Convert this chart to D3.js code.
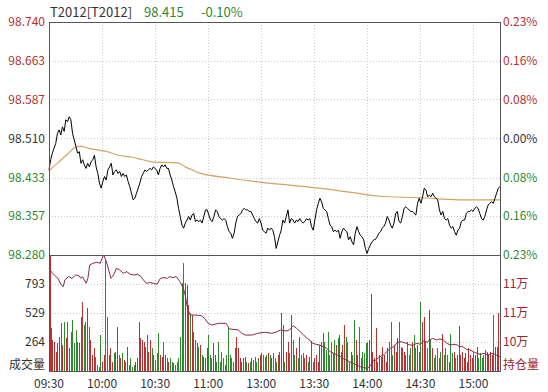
<!DOCTYPE html>
<html>
<head>
<meta charset="utf-8">
<script src="https://d3js.org/d3.v7.min.js"></script>
<style>
    body { margin: 0; background: #fff; }
    text { font-family: "Noto Sans CJK SC", "Noto Sans", sans-serif; font-size: 12px; }
</style>
</head>
<body>
<div id="my_chart"></div>
<script>

    // header
    var code = "T2012[T2012]";
    var lastPrice = "98.415";
    var lastChange = "-0.10%";

    // axis labels
    var prevClose = 98.510;
    var priceTicks = [98.740, 98.663, 98.587, 98.510, 98.433, 98.357, 98.280];
    var pctLabels = ["0.23%", "0.16%", "0.08%", "0.00%", "0.08%", "0.16%", "0.23%"];
    var timeLabels = ["09:30", "10:00", "10:30", "11:00", "13:00", "13:30", "14:00", "14:30", "15:00"];
    var timeMinutes = [0, 30, 60, 90, 120, 150, 180, 210, 240];
    var volTicks = [264, 529, 793];
    var volMax = 1057;
    var oiTicks = [108500, 106500, 104500];

    // minute prices 09:30 - 15:15
    var prices = [
        98.448, 98.468, 98.481, 98.491, 98.500, 98.520, 98.527, 98.517, 98.533, 98.524,
        98.547, 98.543, 98.553, 98.547, 98.520, 98.507, 98.494, 98.481, 98.484, 98.461,
        98.468, 98.458, 98.451, 98.461, 98.454, 98.464, 98.468, 98.477, 98.454, 98.441,
        98.422, 98.412, 98.425, 98.435, 98.428, 98.448, 98.454, 98.461, 98.438, 98.445,
        98.448, 98.441, 98.445, 98.435, 98.441, 98.435, 98.438, 98.425, 98.415, 98.402,
        98.389, 98.392, 98.402, 98.412, 98.422, 98.435, 98.441, 98.448, 98.445, 98.448,
        98.451, 98.448, 98.454, 98.451, 98.448, 98.438, 98.451, 98.458, 98.454, 98.458,
        98.451, 98.451, 98.438, 98.428, 98.415, 98.405, 98.392, 98.372, 98.356, 98.339,
        98.333, 98.343, 98.349, 98.356, 98.349, 98.359, 98.362,
        98.346, 98.349, 98.346, 98.349, 98.343, 98.356, 98.369, 98.369, 98.359, 98.349,
        98.346, 98.356, 98.369, 98.366, 98.356, 98.352, 98.349, 98.352, 98.349, 98.336,
        98.326, 98.323, 98.313, 98.323, 98.343, 98.356, 98.359, 98.362, 98.369, 98.372,
        98.369, 98.369, 98.366, 98.366, 98.359, 98.352, 98.346, 98.343, 98.352, 98.343,
        98.329, 98.326, 98.323, 98.333, 98.329, 98.333, 98.329, 98.316, 98.293, 98.306,
        98.319, 98.329, 98.349, 98.343, 98.356, 98.369, 98.343, 98.352, 98.349, 98.343,
        98.349, 98.346, 98.352, 98.346, 98.343, 98.346, 98.352, 98.349, 98.352, 98.336,
        98.329, 98.349, 98.369, 98.382, 98.392, 98.385, 98.372, 98.369, 98.366, 98.352,
        98.339, 98.336, 98.326, 98.329, 98.326, 98.329, 98.313, 98.326, 98.333, 98.329,
        98.326,
        98.310, 98.316, 98.306, 98.300, 98.323, 98.336, 98.326, 98.319, 98.316, 98.310,
        98.293, 98.283, 98.293, 98.300, 98.306, 98.310, 98.311, 98.316, 98.323, 98.326,
        98.333, 98.336, 98.343, 98.356, 98.349, 98.339, 98.333, 98.343, 98.362, 98.366,
        98.346, 98.343, 98.356, 98.372, 98.375, 98.372, 98.369, 98.366, 98.366, 98.362,
        98.359, 98.382, 98.392, 98.382, 98.395, 98.412, 98.408, 98.395, 98.398, 98.395,
        98.402, 98.395, 98.392, 98.389, 98.369, 98.359, 98.366, 98.352, 98.349, 98.352,
        98.339, 98.333, 98.336, 98.326, 98.319, 98.329, 98.333, 98.346, 98.349, 98.349,
        98.362, 98.366, 98.366, 98.369, 98.366, 98.372, 98.375, 98.372, 98.362, 98.352,
        98.349, 98.356, 98.369, 98.379, 98.382, 98.385, 98.382, 98.392, 98.402, 98.412,
        98.415
    ];

    // average price line
    var avgMinutes = [0, 3, 7, 11, 15, 18, 22, 28, 32, 39, 47, 53, 58, 73, 77, 81, 85, 102, 119, 136, 153, 170, 187, 210, 232, 255];
    var avgPrices = [98.446, 98.456, 98.468, 98.481, 98.493, 98.495, 98.491, 98.487, 98.485, 98.477, 98.473, 98.468, 98.464,
        98.462, 98.454, 98.448, 98.442, 98.432, 98.424, 98.418, 98.412, 98.404, 98.396, 98.393, 98.389, 98.389];

    // volume per minute
    var volumes = [
        1050, 389, 282, 267, 176, 252, 313, 434, 237, 449, 298, 449, 207, 358, 465, 252, 374, 267, 252, 495,
        632, 419, 449, 571, 404, 282, 146, 207, 131, 55, 39, 328, 85, 146, 1011, 495, 146, 207, 85, 161,
        176, 404, 146, 115, 161, 100, 85, 222, 55, 115, 39, 55, 85, 115, 449, 298, 282, 267, 222, 328,
        176, 282, 207, 146, 100, 161, 343, 146, 131, 267, 146, 115, 85, 115, 85, 70, 55, 85, 115, 313,
        799, 981, 799, 783, 601, 525, 510, 358, 282, 252, 222, 237, 146, 131, 115, 207, 328, 146, 115, 252,
        146, 85, 267, 85, 176, 115, 55, 146, 404, 146, 115, 85, 207, 313, 207, 115, 85, 115, 131, 85,
        70, 85, 115, 100, 131, 85, 115, 146, 161, 146, 131, 146, 161, 146, 115, 161,
        115, 85, 146, 176, 525, 419, 85, 176, 267, 161, 510, 282, 146, 207, 115, 313, 146, 161, 115, 146,
        85, 131, 273, 85, 115, 146, 85, 237, 267, 343, 267, 191, 358, 146, 267, 161, 282, 237, 298, 328,
        176, 237, 419, 313, 267, 85, 176, 146, 465, 282, 146, 404, 115, 176, 161, 252, 267, 282, 698, 176,
        115, 389, 85, 146, 131, 222, 146, 85, 207, 267, 449, 146, 237, 176, 298, 449, 222, 207, 176, 146,
        267, 146, 207, 267, 328, 207, 237, 176, 632, 449, 495, 267, 207, 556, 282, 207, 115, 146, 207, 115,
        176, 334, 146, 207, 146, 85, 334, 161, 176, 115, 146, 410, 146, 176, 115, 161, 85, 207, 146, 115,
        176, 146, 222, 115, 161, 115, 146, 191, 176, 146, 176, 146, 510, 222, 222, 525, 434
    ];

    // open interest
    var oiMinutes = [0, 2, 3, 5, 7, 8, 9, 11, 13, 15, 17, 18, 19, 20, 21, 22, 23, 25, 27, 29, 30, 31, 32, 33, 34, 35, 36, 37, 38,
        40, 42, 44, 46, 48, 50, 52, 53, 55, 57, 59, 61, 63, 65, 67, 68, 70, 72, 74, 76, 77, 78, 79, 80, 83, 86, 88, 90, 92,
        96, 100, 101, 102, 107, 109, 111, 115, 118, 122, 126, 129, 131, 134, 136, 138, 140, 142, 144, 146, 148, 149, 151,
        153, 155, 157, 159, 161, 163, 165, 166, 168, 170, 172, 174, 176, 178, 180, 182, 183, 185, 187, 189, 191, 193, 195,
        197, 199, 200, 202, 204, 206, 208, 210, 212, 214, 215, 217, 219, 221, 223, 225, 227, 229, 231, 232, 234, 236, 238,
        240, 242, 244, 246, 248, 249, 251, 253, 255];
    var oiValues = [109580, 109240, 109120, 108890, 108430, 108310, 108780, 109010, 108890, 109120, 109070, 108890, 109010,
        108780, 108550, 108890, 109810, 109930, 110000, 109930, 110270, 110500, 110160, 109810, 109350, 108890, 109010,
        109240, 109580, 109470, 109240, 109350, 109170, 109120, 109170, 109010, 108840, 108550, 108600, 108550, 108480,
        108890, 108940, 108890, 109010, 108940, 109010, 108660, 108200, 107740, 107050, 106590, 106360, 106360, 106320,
        106130, 105790, 105670, 105790, 105790, 105620, 105400, 105330, 105100, 104980, 104980, 105100, 105170, 105100,
        105210, 105330, 105260, 105330, 105630, 105440, 105210, 104980, 104750, 104570, 104410, 104340, 104290, 104180,
        104060, 103830, 103720, 103600, 103490, 103370, 103260, 103140, 103030, 102910, 102800, 102730, 102680, 102910,
        103190, 103260, 103490, 103600, 103830, 104060, 104180, 104480, 104520, 104480, 104410, 104290, 104290, 104410,
        104340, 104570, 104480, 104640, 104750, 104640, 104710, 104640, 104410, 104290, 104340, 104290, 104180, 104180,
        103990, 103950, 103830, 103720, 103650, 103720, 103600, 103650, 103720, 103600, 103490];

    var W = 548, H = 392;
    var plot = {left: 49, right: 500, top: 22, mid: 255, bottom: 371};

    var red = "#b8302f", green = "#2f8a2f", grey = "#333";

    var svg = d3.select("#my_chart")
        .append("svg")
        .attr("width", W)
        .attr("height", H);

    var x = d3.scaleLinear().domain([0, 255]).range([plot.left, plot.right]);
    var yP = d3.scaleLinear().domain([98.280, 98.740]).range([plot.mid, plot.top]);
    var yV = d3.scaleLinear().domain([0, volMax]).range([plot.bottom, plot.mid]);
    var yOI = d3.scaleLinear().domain([102500, 110500]).range([plot.bottom, plot.mid]);

    var nP = prices.length, nV = volumes.length;
    var pMin = function(i) { return i * 255 / (nP - 1); };
    var vMin = function(i) { return i * 255 / (nV - 1); };

    // grid
    var grid = svg.append("g")
        .attr("stroke", "#c8c8c8")
        .attr("stroke-dasharray", "1,2")
        .attr("shape-rendering", "crispEdges");
    grid.selectAll(".hp")
        .data(priceTicks.slice(1, -1))
        .enter().append("line")
        .attr("x1", plot.left).attr("x2", plot.right)
        .attr("y1", function(d) { return Math.round(yP(d)) + 0.5; })
        .attr("y2", function(d) { return Math.round(yP(d)) + 0.5; });
    grid.selectAll(".hv")
        .data(volTicks)
        .enter().append("line")
        .attr("x1", plot.left).attr("x2", plot.right)
        .attr("y1", function(d) { return Math.round(yV(d)) + 0.5; })
        .attr("y2", function(d) { return Math.round(yV(d)) + 0.5; });
    grid.selectAll(".vt")
        .data(timeMinutes.slice(1))
        .enter().append("line")
        .attr("y1", plot.top).attr("y2", plot.bottom)
        .attr("x1", function(d) { return Math.round(x(d)) + 0.5; })
        .attr("x2", function(d) { return Math.round(x(d)) + 0.5; });

    // volume bars
    var barColor = function(i) {
        var pi = Math.round(vMin(i) / 255 * (nP - 1));
        if (pi == 0) return red;
        return prices[pi] >= prices[pi - 1] ? red : green;
    };
    svg.append("g")
        .attr("shape-rendering", "crispEdges")
        .selectAll("rect")
        .data(volumes)
        .enter().append("rect")
        .attr("x", function(d, i) { return Math.round(x(vMin(i))); })
        .attr("width", function(d, i) { return i == 0 ? 2 : 1; })
        .attr("y", function(d) { return yV(d); })
        .attr("height", function(d) { return plot.bottom - yV(d); })
        .attr("fill", function(d, i) { return barColor(i); });

    // open interest line
    svg.append("path")
        .datum(oiValues)
        .attr("fill", "none")
        .attr("stroke", "#8c2846")
        .attr("stroke-width", 1)
        .attr("d", d3.line()
            .x(function(d, i) { return x(oiMinutes[i]); })
            .y(function(d) { return yOI(d); }));

    // average line
    svg.append("path")
        .datum(avgPrices)
        .attr("fill", "none")
        .attr("stroke", "#d2a464")
        .attr("stroke-width", 1.2)
        .attr("d", d3.line()
            .curve(d3.curveMonotoneX)
            .x(function(d, i) { return x(avgMinutes[i]); })
            .y(function(d) { return yP(d); }));

    // price line
    svg.append("path")
        .datum(prices)
        .attr("fill", "none")
        .attr("stroke", "#000")
        .attr("stroke-width", 1)
        .attr("d", d3.line()
            .x(function(d, i) { return x(pMin(i)); })
            .y(function(d) { return yP(d); }));

    // frame
    var frame = svg.append("g")
        .attr("stroke", "#555")
        .attr("fill", "none")
        .attr("shape-rendering", "crispEdges");
    frame.append("rect")
        .attr("x", plot.left + 0.5).attr("y", plot.top + 0.5)
        .attr("width", plot.right - plot.left).attr("height", plot.bottom - plot.top);
    frame.append("line")
        .attr("x1", plot.left).attr("x2", plot.right)
        .attr("y1", plot.mid + 0.5).attr("y2", plot.mid + 0.5);

    var labelColor = function(d) {
        if (Math.abs(d - prevClose) < 0.0005) return grey;
        return d > prevClose ? red : green;
    };

    // left price labels
    svg.append("g").selectAll("text")
        .data(priceTicks)
        .enter().append("text")
        .attr("x", plot.left - 4)
        .attr("y", function(d) { return yP(d); })
        .attr("dy", "0.35em")
        .attr("text-anchor", "end")
        .attr("fill", labelColor)
        .text(function(d) { return d3.format(".3f")(d); });

    // right percent labels
    svg.append("g").selectAll("text")
        .data(priceTicks)
        .enter().append("text")
        .attr("x", plot.right + 3)
        .attr("y", function(d) { return yP(d); })
        .attr("dy", "0.35em")
        .attr("fill", labelColor)
        .text(function(d, i) { return pctLabels[i]; });

    // volume labels
    svg.append("g").selectAll("text")
        .data(volTicks)
        .enter().append("text")
        .attr("x", plot.left - 4)
        .attr("y", function(d) { return yV(d); })
        .attr("dy", "0.35em")
        .attr("text-anchor", "end")
        .attr("fill", grey)
        .text(function(d) { return d; });
    svg.append("text")
        .attr("x", plot.left - 4).attr("y", plot.bottom - 6)
        .attr("dy", "0.35em")
        .attr("text-anchor", "end")
        .attr("fill", grey)
        .text("成交量");

    // open interest labels
    svg.append("g").selectAll("text")
        .data(oiTicks)
        .enter().append("text")
        .attr("x", plot.right + 3)
        .attr("y", function(d) { return yOI(d); })
        .attr("dy", "0.35em")
        .attr("fill", "#9c2436")
        .text(function(d) { return Math.round(d / 10000) + "万"; });
    svg.append("text")
        .attr("x", plot.right + 3).attr("y", plot.bottom - 6)
        .attr("dy", "0.35em")
        .attr("fill", "#9c2436")
        .text("持仓量");

    // time labels
    svg.append("g").selectAll("text")
        .data(timeMinutes)
        .enter().append("text")
        .attr("x", function(d) { return x(d); })
        .attr("y", plot.bottom + 13)
        .attr("dy", "0.35em")
        .attr("text-anchor", "middle")
        .attr("fill", grey)
        .text(function(d, i) { return timeLabels[i]; });

    // header
    var head = svg.append("g");
    head.append("text").attr("x", 50).attr("y", 17).attr("fill", grey)
        .style("font-size", "13px").text(code);
    head.append("text").attr("x", 144).attr("y", 17).attr("fill", green)
        .style("font-size", "13px").text(lastPrice);
    head.append("text").attr("x", 201).attr("y", 17).attr("fill", green)
        .style("font-size", "13px").text(lastChange);

</script>
</body>
</html>
